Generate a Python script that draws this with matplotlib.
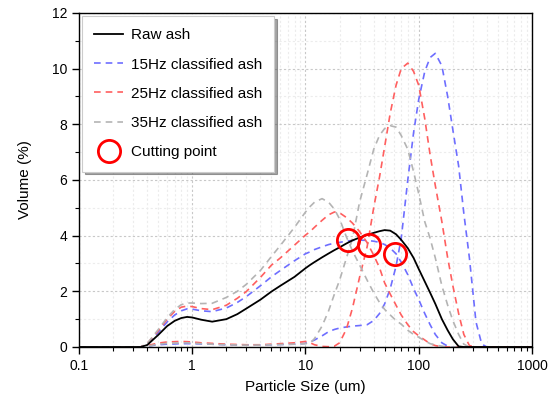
import matplotlib
matplotlib.use("Agg")
import matplotlib.pyplot as plt
from matplotlib.ticker import LogLocator, MultipleLocator, NullFormatter, FixedLocator, FixedFormatter

plt.rcParams['font.family'] = ['Liberation Sans', 'DejaVu Sans']

# particle size bins (um)
size = [0.1, 0.2, 0.3, 0.35, 0.4, 0.5, 0.6, 0.7, 0.8, 0.9,
        1.0, 1.2, 1.5, 2, 2.5, 3, 4, 5, 6, 8,
        10, 11, 12, 14, 16, 18, 20, 23, 26, 30,
        35, 40, 45, 50, 56, 63, 70, 80, 90, 100,
        113, 126, 140, 160, 180, 200, 225, 250, 280, 320,
        360, 400, 500, 1000]

raw_ash = [0, 0, 0, 0, 0.07, 0.43, 0.75, 0.94, 1.04, 1.08,
           1.06, 0.98, 0.91, 1.0, 1.18, 1.38, 1.7, 1.99, 2.2, 2.52,
           2.83, 2.95, 3.05, 3.22, 3.36, 3.48, 3.58, 3.72, 3.83, 3.93,
           4.03, 4.1, 4.16, 4.2, 4.18, 4.05, 3.85, 3.55, 3.2, 2.8,
           2.35, 1.95, 1.55, 1.0, 0.6, 0.28, 0.02, 0, 0, 0,
           0, 0, 0, 0]

# 15 Hz: fine and coarse fractions
fine_15 = [0, 0, 0, 0, 0.1, 0.52, 0.9, 1.15, 1.3, 1.37,
           1.36, 1.3, 1.27, 1.4, 1.6, 1.81, 2.2, 2.52, 2.75, 3.1,
           3.35, 3.42, 3.5, 3.6, 3.68, 3.73, 3.76, 3.8, 3.83, 3.84,
           3.83, 3.8, 3.76, 3.68, 3.55, 3.35, 3.05, 2.6, 2.1, 1.7,
           1.2, 0.8, 0.45, 0.15, 0.03, 0, 0, 0, 0, 0,
           0, 0, 0, 0]
coarse_15 = [0, 0, 0, 0, 0.03, 0.08, 0.1, 0.11, 0.12, 0.12,
             0.12, 0.11, 0.1, 0.08, 0.07, 0.07, 0.07, 0.08, 0.09, 0.1,
             0.13, 0.18, 0.25, 0.4, 0.55, 0.63, 0.68, 0.72, 0.75, 0.77,
             0.8, 0.95, 1.2, 1.55, 2.1, 2.9, 3.9, 6.0, 7.7, 8.9,
             9.9, 10.4, 10.55, 10.1, 9.0, 7.8, 6.5, 4.8, 3.2, 0.9,
             0.1, 0, 0, 0]

# 25 Hz
fine_25 = [0, 0, 0, 0, 0.12, 0.58, 1.0, 1.28, 1.43, 1.47,
           1.45, 1.38, 1.34, 1.5, 1.75, 1.99, 2.5, 2.94, 3.2, 3.66,
           4.02, 4.15, 4.3, 4.55, 4.75, 4.85, 4.82, 4.65, 4.45, 4.15,
           3.75, 3.3, 2.85, 2.3, 1.9, 1.5, 1.15, 0.8, 0.55, 0.4,
           0.25, 0.12, 0.05, 0.01, 0, 0, 0, 0, 0, 0,
           0, 0, 0, 0]
coarse_25 = [0, 0, 0, 0, 0.05, 0.14, 0.18, 0.19, 0.2, 0.19,
             0.18, 0.15, 0.13, 0.1, 0.09, 0.08, 0.08, 0.1, 0.12, 0.15,
             0.2, 0.15, 0.08, 0.02, 0.01, 0.03, 0.15, 0.65, 1.4, 2.5,
             3.6, 5.0, 6.1, 7.2, 8.4, 9.4, 10.0, 10.2, 9.9, 9.4,
             8.2, 6.9, 5.8, 4.5, 3.2, 2.2, 1.2, 0.45, 0.05, 0,
             0, 0, 0, 0]

# 35 Hz
fine_35 = [0, 0, 0, 0, 0.12, 0.62, 1.05, 1.35, 1.52, 1.58,
           1.58, 1.56, 1.57, 1.78, 2.0, 2.25, 2.75, 3.25, 3.65, 4.3,
           4.85, 5.05, 5.2, 5.33, 5.2, 4.95, 4.6, 3.95, 3.45, 2.95,
           2.4, 1.95, 1.6, 1.35, 1.15, 0.95, 0.82, 0.6, 0.45, 0.35,
           0.22, 0.12, 0.07, 0.03, 0, 0, 0, 0, 0, 0,
           0, 0, 0, 0]
coarse_35 = [0, 0, 0, 0, 0.03, 0.1, 0.13, 0.14, 0.15, 0.15,
             0.14, 0.12, 0.1, 0.08, 0.07, 0.07, 0.07, 0.08, 0.09, 0.1,
             0.12, 0.14, 0.3, 0.75, 1.3, 1.9, 2.4, 3.2, 3.9, 5.2,
             6.2, 7.1, 7.6, 7.85, 7.95, 7.9, 7.6, 7.1, 6.3, 5.5,
             4.5, 3.9, 3.2, 2.2, 1.5, 0.95, 0.45, 0.1, 0, 0,
             0, 0, 0, 0]

# cutting points (size, volume)
cut_size = [23.5, 36, 62]
cut_vol = [3.84, 3.66, 3.34]

blue = '#6e6eff'
red = '#ff5f5f'
grey = '#b4b4b4'
dash = (4, 3)

fig = plt.figure(figsize=(5.55, 4.01), dpi=100)
ax = fig.add_axes([0.1423, 0.1347, 0.8163, 0.8329])

ax.plot(size, raw_ash, color='black', lw=1.3, label='Raw ash', zorder=5)
ax.plot(size, fine_15, color=blue, lw=1.2, dashes=dash, label='15Hz classified ash')
ax.plot(size, coarse_15, color=blue, lw=1.2, dashes=dash)
ax.plot(size, fine_25, color=red, lw=1.2, dashes=dash, label='25Hz classified ash')
ax.plot(size, coarse_25, color=red, lw=1.2, dashes=dash)
ax.plot(size, fine_35, color=grey, lw=1.2, dashes=dash, label='35Hz classified ash')
ax.plot(size, coarse_35, color=grey, lw=1.2, dashes=dash)
ax.plot(cut_size, cut_vol, 'o', ms=16, mfc='none', mec='red', mew=2,
        label='Cutting point', zorder=6)

ax.set_xscale('log')
ax.set_xlim(0.1, 1000)
ax.set_ylim(0, 12)

ax.xaxis.set_major_locator(FixedLocator([0.1, 1, 10, 100, 1000]))
ax.xaxis.set_major_formatter(FixedFormatter(['0.1', '1', '10', '100', '1000']))
ax.xaxis.set_minor_locator(LogLocator(base=10, subs=range(2, 10)))
ax.xaxis.set_minor_formatter(NullFormatter())
ax.yaxis.set_major_locator(MultipleLocator(2))
ax.yaxis.set_minor_locator(MultipleLocator(1))

ax.tick_params(which='major', direction='out', length=5, width=1, labelsize=10)
ax.tick_params(which='minor', direction='out', length=3, width=0.8)
ax.tick_params(top=False, right=False, which='both')

ax.grid(which='major', color='#c8c8c8', linestyle=(0, (2, 2)), lw=0.8)
ax.grid(which='minor', color='#ececec', linestyle=(0, (2, 2)), lw=0.8)
ax.set_axisbelow(True)

for s in ax.spines.values():
    s.set_linewidth(1)

ax.set_xlabel('Particle Size (um)', fontsize=11, labelpad=5)
ax.set_ylabel('Volume (%)', fontsize=11, labelpad=14)

leg = ax.legend(loc='upper left', bbox_to_anchor=(0.0, 1.0), fontsize=11,
                frameon=True, fancybox=False, shadow=True, borderaxespad=0.2,
                handlelength=1.9, handletextpad=0.5, labelspacing=1.0,
                borderpad=0.8)
leg.get_frame().set_edgecolor('#cccccc')
leg.get_frame().set_linewidth(0.8)

fig.savefig('out.png', dpi=100)
